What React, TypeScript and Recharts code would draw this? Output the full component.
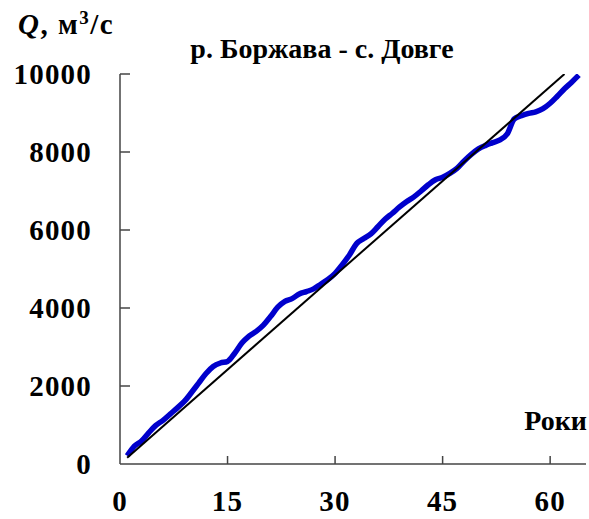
import { LineChart, Line, XAxis, YAxis } from "recharts";

// cumulative discharge, р. Боржава - с. Довге
const years = [
  1, 2, 3, 4, 5, 6, 7, 8, 9, 10, 11, 12, 13, 14, 15, 16, 17, 18, 19, 20, 21,
  22, 23, 24, 25, 26, 27, 28, 29, 30, 31, 32, 33, 34, 35, 36, 37, 38, 39, 40,
  41, 42, 43, 44, 45, 46, 47, 48, 49, 50, 51, 52, 53, 54, 55, 56, 57, 58, 59,
  60, 61, 62, 63, 64,
];
const cumulativeQ = [
  210, 460, 590, 800, 990, 1120, 1280, 1440, 1610, 1840, 2080, 2320, 2500,
  2590, 2630, 2840, 3100, 3280, 3400, 3560, 3780, 4020, 4170, 4240, 4360,
  4420, 4490, 4610, 4730, 4890, 5110, 5360, 5650, 5780, 5900, 6090, 6280,
  6430, 6590, 6730, 6850, 7000, 7160, 7290, 7350, 7450, 7580, 7770, 7940,
  8080, 8170, 8240, 8310, 8460, 8850, 8930, 8990, 9030, 9110, 9250, 9430,
  9620, 9790, 9970,
];

// straight reference line
const trendYears = [1, 62];
const trendQ = [161, 10000];

const xTicks = [0, 15, 30, 45, 60];
const yTicks = [0, 2000, 4000, 6000, 8000, 10000];

const data = years.map((year, i) => ({ year, q: cumulativeQ[i] }));
const trendData = trendYears.map((year, i) => ({ year, q: trendQ[i] }));

const font = '"Liberation Serif", "Times New Roman", serif';
const axisColor = "#444";

const XTick = (props: any) => {
  const { x, y, payload } = props;
  return (
    <g>
      {payload.value !== 0 && (
        <line x1={x} y1={y} x2={x} y2={y - 8} stroke={axisColor} strokeWidth={1.5} />
      )}
      <text
        x={x}
        y={y + 47}
        textAnchor="middle"
        fontFamily={font}
        fontWeight="bold"
        fontSize={29}
        letterSpacing={1.2}
        fill="#000"
      >
        {payload.value}
      </text>
    </g>
  );
};

const YTick = (props: any) => {
  const { x, y, payload } = props;
  return (
    <g>
      {payload.value !== 0 && (
        <line x1={x} y1={y} x2={x + 10} y2={y} stroke={axisColor} strokeWidth={1.5} />
      )}
      <text
        x={x - 28}
        y={y + 9.5}
        textAnchor="end"
        fontFamily={font}
        fontWeight="bold"
        fontSize={29}
        letterSpacing={1.2}
        fill="#000"
      >
        {payload.value}
      </text>
    </g>
  );
};

export default function App() {
  return (
    <div style={{ position: "absolute", left: 0, top: 0, background: "#fff" }}>
      <LineChart
        width={589}
        height={519}
        margin={{ top: 74, right: 3, bottom: 0, left: 0 }}
      >
        <XAxis
          dataKey="year"
          type="number"
          domain={[0, 65]}
          ticks={xTicks}
          interval={0}
          height={55}
          tickSize={0}
          tickMargin={0}
          tickLine={false}
          tick={<XTick />}
          axisLine={{ stroke: axisColor, strokeWidth: 1.5 }}
          allowDataOverflow
        />
        <YAxis
          type="number"
          domain={[0, 10000]}
          ticks={yTicks}
          interval={0}
          width={120}
          tickSize={0}
          tickMargin={0}
          tickLine={false}
          tick={<YTick />}
          axisLine={{ stroke: axisColor, strokeWidth: 1.5 }}
          allowDataOverflow
        />
        <Line
          data={data}
          dataKey="q"
          type="monotone"
          stroke="#0000cc"
          strokeWidth={5.5}
          dot={false}
          isAnimationActive={false}
        />
        <Line
          data={trendData}
          dataKey="q"
          type="linear"
          stroke="#000"
          strokeWidth={2}
          dot={false}
          isAnimationActive={false}
        />
        <text
          x={18}
          y={34}
          fontFamily={font}
          fontWeight="bold"
          fontSize={29}
          letterSpacing={1.5}
          fill="#000"
        >
          <tspan fontStyle="italic">Q</tspan>
          <tspan>, м</tspan>
          <tspan dy={-10} fontSize={19}>3</tspan>
          <tspan dy={10}>/с</tspan>
        </text>
        <text
          x={322}
          y={58}
          textAnchor="middle"
          fontFamily={font}
          fontWeight="bold"
          fontSize={28}
          fill="#000"
        >
          р. Боржава - с. Довге
        </text>
        <text
          x={587}
          y={430}
          textAnchor="end"
          fontFamily={font}
          fontWeight="bold"
          fontSize={28}
          fill="#000"
        >
          Роки
        </text>
      </LineChart>
    </div>
  );
}
